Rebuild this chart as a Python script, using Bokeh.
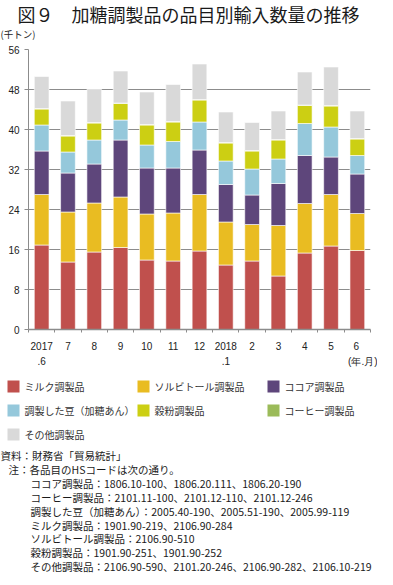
from bokeh.plotting import figure
from bokeh.models import Range1d, FixedTicker, ColumnDataSource
from bokeh.layouts import column
from bokeh.core.properties import value
from bokeh.embed import file_html
from bokeh.resources import INLINE

# ---------------- data ----------------
title_text = "図９　加糖調製品の品目別輸入数量の推移"
unit_text = "(千トン)"
months = ["2017.6", "7", "8", "9", "10", "11", "12", "2018.1", "2", "3", "4", "5", "6"]
month_labels = ["2017\n.6", "7", "8", "9", "10", "11", "12", "2018\n.1", "2", "3", "4", "5",
                "6\n\u3000 (年.月)"]
series_names = ["ミルク調製品", "ソルビトール調製品", "ココア調製品", "調製した豆（加糖あん）",
                "穀粉調製品", "コーヒー調製品", "その他調製品"]
milk     = [16.9, 13.5, 15.5, 16.4, 13.9, 13.7, 15.7, 12.9, 13.7, 10.7, 15.3, 16.7, 15.8]
sorbitol = [10.1, 10.0, 9.8, 10.1, 9.2, 9.6, 11.3, 8.6, 7.3, 10.1, 9.9, 10.3, 7.4]
cocoa    = [8.7, 7.8, 7.8, 11.4, 9.2, 9.0, 8.9, 7.5, 5.9, 8.4, 9.6, 7.5, 7.9]
beans    = [5.2, 4.2, 4.8, 4.0, 4.6, 5.3, 5.6, 4.7, 5.2, 4.9, 6.4, 6.0, 3.7]
grain    = [3.2, 3.2, 3.4, 3.3, 4.0, 3.9, 4.4, 3.6, 3.6, 3.8, 3.6, 4.2, 3.3]
coffee   = [0.1, 0.1, 0.1, 0.1, 0.1, 0.1, 0.1, 0.1, 0.1, 0.1, 0.1, 0.1, 0.1]
other    = [6.4, 6.9, 6.6, 6.4, 6.5, 7.4, 7.1, 6.1, 5.6, 5.7, 6.6, 7.7, 5.5]
colors = ["#C0504D", "#E9BC22", "#5E467B", "#95C8DB", "#CCCF13", "#9BBB59", "#D9D9D9"]
yticks = [0, 8, 16, 24, 32, 40, 48, 56]
notes = [
    "資料：財務省「貿易統計」",
    "注：各品目のHSコードは次の通り。",
    "ココア調製品：1806.10-100、1806.20.111、1806.20-190",
    "コーヒー調製品：2101.11-100、2101.12-110、2101.12-246",
    "調製した豆（加糖あん）：2005.40-190、2005.51-190、2005.99-119",
    "ミルク調製品：1901.90-219、2106.90-284",
    "ソルビトール調製品：2106.90-510",
    "穀粉調製品：1901.90-251、1901.90-252",
    "その他調製品：2106.90-590、2101.20-246、2106.90-282、2106.10-219",
]

JPF = "Noto Sans CJK JP"
JP = value(JPF)
W = 377
GRID = "#8c8c8c"
TXT = "#222222"

def blank(h, y0, y1):
    f = figure(width=W, height=h, x_range=Range1d(8, 385), y_range=Range1d(y1, y0),
               output_backend="svg", toolbar_location=None, min_border=0,
               x_axis_location=None, y_axis_location=None, outline_line_color=None)
    f.grid.visible = False
    f.frame_align = False
    return f

# ---------------- top (title) ----------------
top = blank(41, 0, 41)
top.text(x=[25], y=[13], text=[title_text], text_font=JP, text_font_size="18px",
         text_baseline="middle", text_color="#1a1a1a")
top.text(x=[8], y=[33], text=[unit_text], text_font=JP, text_font_size="9.5px",
         text_baseline="middle", text_color=TXT)

# ---------------- main chart ----------------
n = len(months)
centers = [i + 0.5 for i in range(n)]
bounds = [float(i) for i in range(n + 1)]
keys = ["milk", "sorbitol", "cocoa", "beans", "grain", "coffee", "other"]
src = ColumnDataSource(dict(pos=centers, month=months, milk=milk, sorbitol=sorbitol,
                            cocoa=cocoa, beans=beans, grain=grain, coffee=coffee, other=other))
p = figure(width=W, height=329, x_range=Range1d(0, n), y_range=Range1d(0, 56),
           output_backend="svg", toolbar_location=None,
           min_border_left=28, min_border_right=7, min_border_top=8, min_border_bottom=41,
           outline_line_color=None)
p.frame_align = False
p.vbar_stack(keys, x="pos", width=0.56, color=colors, source=src,
             line_color="white", line_alpha=0.6, line_width=1)

p.yaxis.ticker = FixedTicker(ticks=yticks)
p.yaxis.axis_line_color = GRID
p.yaxis.major_tick_line_color = GRID
p.yaxis.major_tick_out = 4
p.yaxis.major_tick_in = 0
p.yaxis.minor_tick_line_color = None
p.yaxis.major_label_standoff = 5
p.yaxis.major_label_text_font = "Liberation Sans"
p.yaxis.major_label_text_font_size = "10px"
p.yaxis.major_label_text_color = TXT
p.ygrid.ticker = FixedTicker(ticks=yticks)
p.ygrid.grid_line_color = GRID
p.ygrid.grid_line_width = 1
p.xgrid.visible = False

xaxis = p.xaxis[0]
xaxis.ticker = FixedTicker(ticks=centers, minor_ticks=bounds)
xaxis.major_label_overrides = dict(zip(centers, month_labels))
xaxis.axis_line_color = GRID
xaxis.axis_line_width = 1.5
xaxis.major_tick_line_color = None
xaxis.major_tick_out = 0
xaxis.major_tick_in = 0
xaxis.minor_tick_line_color = GRID
xaxis.minor_tick_out = 3
xaxis.minor_tick_in = 0
xaxis.major_label_standoff = 8
xaxis.major_label_text_font = "Liberation Sans"
xaxis.major_label_text_font_size = "10px"
xaxis.major_label_text_color = TXT
xaxis.major_label_text_line_height = 1.45

# ---------------- legend + notes ----------------
bot = blank(207, 370, 577)
col_x = [15, 145, 275]
row_y = [386, 410, 434]
lx = [col_x[i % 3] for i in range(len(series_names))]
ly = [row_y[i // 3] for i in range(len(series_names))]
bot.rect(x=[v + 6 for v in lx], y=ly, width=12, height=12, color=colors, line_color=None)
bot.text(x=[v + 17 for v in lx], y=ly, text=series_names, text_font=JP, text_font_size="10px",
         text_baseline="middle", text_color="#333333")

note_x = [8, 16] + [38] * (len(notes) - 2)
note_y = [455 + 13.9 * i for i in range(len(notes))]
bot.text(x=note_x, y=note_y, text=notes, text_font=JP, text_font_size="10.5px",
         text_baseline="middle", text_color="#1a1a1a")

layout = column(top, p, bot, spacing=0)
open("out.html", "w").write(file_html(layout, INLINE))
